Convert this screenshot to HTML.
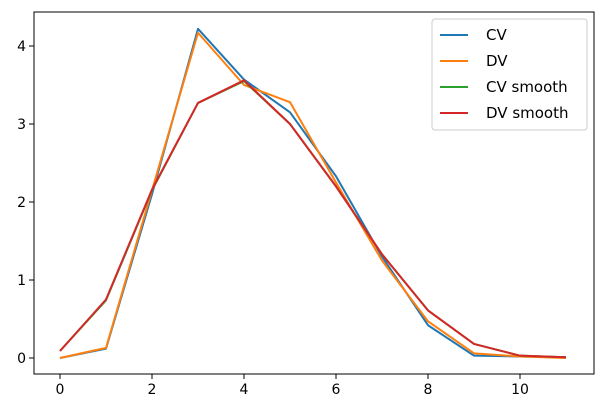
<!DOCTYPE html>
<html><head><meta charset="utf-8"><style>
html,body{margin:0;padding:0;background:#fff;}
svg{display:block;font-family:"DejaVu Sans","Liberation Sans",sans-serif;}
</style></head><body>
<svg id="chart" width="604" height="416" xmlns="http://www.w3.org/2000/svg">
<rect x="0" y="0" width="604" height="416" fill="#fff"/>
<g id="plot"></g>
</svg>
<script>
const xs = [0,1,2,3,4,5,6,7,8,9,10,11];
const cv = [0,0.12,2.1,4.22,3.57,3.15,2.33,1.3,0.42,0.03,0.02,0.01];
const dv = [0,0.13,2.15,4.17,3.5,3.28,2.25,1.25,0.47,0.06,0.02,0.0];
const cvSmooth = [0.09,0.74,2.15,3.27,3.55,3.0,2.2,1.33,0.61,0.18,0.03,0.01];
const dvSmooth = [0.09,0.75,2.16,3.27,3.56,3.0,2.2,1.33,0.61,0.18,0.03,0.01];
const xTicks = [0,2,4,6,8,10];
const yTicks = [0,1,2,3,4];
const seriesNames = ["CV","DV","CV smooth","DV smooth"];
const colors = ["#1f77b4","#ff7f0e","#2ca02c","#d62728"];

const L=34,R=594,T=12,B=374;
const xScale=v=>60+v*46;
const yScale=v=>358-v*78;
const NS="http://www.w3.org/2000/svg";
const g=document.getElementById('plot');
function mk(t,a){const e=document.createElementNS(NS,t);for(const k in a)e.setAttribute(k,a[k]);g.appendChild(e);return e;}

xTicks.forEach(v=>{
  const x=xScale(v);
  const t=mk('line',{x1:x,x2:x,y1:B,y2:B+5,stroke:'#000','stroke-width':1});
  
  
  const l=mk('text',{x:x,y:B+20,'text-anchor':'middle','font-size':14,fill:'#000'});
  l.textContent=v;
  
  
});
yTicks.forEach(v=>{
  const y=yScale(v);
  const t=mk('line',{x1:L-5,x2:L,y1:y,y2:y,stroke:'#000','stroke-width':1});
  
  
  const l=mk('text',{x:L-8,y:y+5,'text-anchor':'end','font-size':14,fill:'#000'});
  l.textContent=v;
  
  
});

const data=[cv,dv,cvSmooth,dvSmooth];
data.forEach((s,i)=>{
  const p=mk('polyline',{points:s.map((v,j)=>xScale(xs[j])+','+yScale(v)).join(' '),fill:'none',stroke:colors[i],'stroke-width':2,'stroke-linejoin':'round'});
  
  
});

const frame=mk('rect',{x:L,y:T,width:R-L,height:B-T,fill:'none',stroke:'#000','stroke-width':1});



const lg=mk('rect',{x:432,y:19,width:155,height:111,rx:3,fill:'#fff','fill-opacity':0.8,stroke:'#ccc','stroke-width':1});


seriesNames.forEach((n,i)=>{
  const y=35+i*26;
  const ln=mk('line',{x1:440,x2:468,y1:y,y2:y,stroke:colors[i],'stroke-width':2});
  
  
  const t=mk('text',{x:486,y:y+5,'font-size':15,fill:'#000'});
  t.textContent=n;
  
  
});
</script>
</body></html>
